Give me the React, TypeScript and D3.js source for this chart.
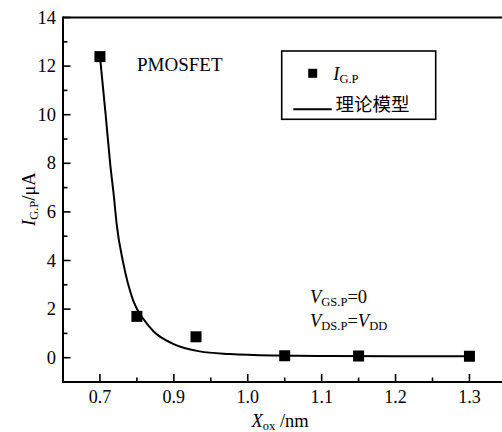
import React from "react";
import * as d3 from "d3";

const xTickValues = [0.8, 0.9, 1.0, 1.1, 1.2, 1.3];
const xTickLabels = ["0.7", "0.9", "1.0", "1.1", "1.2", "1.3"];
const xMinorTicks = [0.85, 0.95, 1.05, 1.15, 1.25];
const yTickValues = [0, 2, 4, 6, 8, 10, 12, 14];
const yMinorTicks = [1, 3, 5, 7, 9, 11, 13];

const measuredX = [0.8, 0.85, 0.93, 1.05, 1.15, 1.3];
const measuredY = [12.39, 1.7, 0.86, 0.08, 0.07, 0.06];

const modelX = [0.8, 0.8077, 0.8138, 0.819, 0.8226, 0.8315, 0.845, 0.8586, 0.872, 0.899, 0.935, 0.976, 1.035, 1.11, 1.2, 1.3];
const modelY = [12.4, 10.0, 8.0, 6.6, 5.5, 3.9, 2.35, 1.6, 1.1, 0.57, 0.26, 0.15, 0.09, 0.07, 0.06, 0.06];

const W = 502;
const H = 432;
const left = 63;
const top = 17.5;
const bottom = 382;
const right = 506.4;

const serif = '"Times New Roman", "Liberation Serif", Tinos, "DejaVu Serif", serif';
const cjk = '"Noto Sans CJK SC", sans-serif';

const serifStyle: React.CSSProperties = { fontFamily: serif };
const cjkStyle: React.CSSProperties = { fontFamily: cjk };

export default function App() {
  const x = d3.scaleLinear().domain([0.75, 1.35]).range([left, right]);
  const y = d3.scaleLinear().domain([-1, 14]).range([bottom, top]);

  const line = d3
    .line<number>()
    .x((_, i) => x(modelX[i]))
    .y((d) => y(d))
    .curve(d3.curveMonotoneX);

  const sq = 11;

  return (
    <div style={{ position: "fixed", left: 0, top: 0, width: W, height: H, background: "#fff" }}>
      <svg width={W} height={H} style={{ display: "block" }}>
        <rect width={W} height={H} fill="#fff" />
        <path d={line(modelY) || ""} fill="none" stroke="#000" strokeWidth={2} />
        {measuredX.map((mx, i) => (
          <rect
            key={i}
            x={x(mx) - sq / 2}
            y={y(measuredY[i]) - sq / 2}
            width={sq}
            height={sq}
            fill="#000"
          />
        ))}
        <line x1={left} x2={W} y1={top} y2={top} stroke="#000" strokeWidth={2} />
        <line x1={left} x2={W} y1={bottom} y2={bottom} stroke="#000" strokeWidth={2} />
        <line x1={left} x2={left} y1={top - 1} y2={bottom + 1} stroke="#000" strokeWidth={2} />
        {xTickValues.map((v, i) => (
          <g key={"xt" + i}>
            <line x1={x(v)} x2={x(v)} y1={bottom} y2={bottom - 8} stroke="#000" strokeWidth={1.6} />
            <text x={x(v)} y={403} textAnchor="middle" style={serifStyle} fontSize={18}>
              {xTickLabels[i]}
            </text>
          </g>
        ))}
        {xMinorTicks.map((v, i) => (
          <line key={"xm" + i} x1={x(v)} x2={x(v)} y1={bottom} y2={bottom - 4.5} stroke="#000" strokeWidth={1.6} />
        ))}
        {yTickValues.map((v, i) => (
          <g key={"yt" + i}>
            <line x1={left} x2={left + 7.5} y1={y(v)} y2={y(v)} stroke="#000" strokeWidth={1.6} />
            <text x={56} y={y(v) + 6} textAnchor="end" style={serifStyle} fontSize={18.5}>
              {v}
            </text>
          </g>
        ))}
        {yMinorTicks.map((v, i) => (
          <line key={"ym" + i} x1={left} x2={left + 4.5} y1={y(v)} y2={y(v)} stroke="#000" strokeWidth={1.6} />
        ))}
        <text x={251.5} y={427} style={serifStyle} fontSize={18.5}>
          <tspan fontStyle="italic">X</tspan>
          <tspan fontSize={12.5} dy={3}>ox</tspan>
          <tspan dy={-3}> /nm</tspan>
        </text>
        <text transform="translate(35,226) rotate(-90)" style={serifStyle} fontSize={18.5}>
          <tspan fontStyle="italic">I</tspan>
          <tspan fontSize={12.5} dy={3}>G.P</tspan>
          <tspan dy={-3}>/μA</tspan>
        </text>
        <text x={137} y={71} style={serifStyle} fontSize={19}>
          PMOSFET
        </text>
        <rect x={281.7} y={51} width={154} height={68.3} fill="none" stroke="#000" strokeWidth={1.6} />
        <rect x={312.7 - 4.5} y={73.3 - 4.5} width={9} height={9} fill="#000" />
        <text x={333.3} y={79.5} style={serifStyle} fontSize={18.5}>
          <tspan fontStyle="italic">I</tspan>
          <tspan fontSize={12.5} dy={3}>G.P</tspan>
        </text>
        <line x1={293.3} x2={331.7} y1={109.3} y2={109.3} stroke="#000" strokeWidth={2} />
        <text x={335.5} y={111} style={cjkStyle} fontSize={18.5}>
          理论模型
        </text>
        <text x={310} y={303.3} style={serifStyle} fontSize={18.5}>
          <tspan fontStyle="italic">V</tspan>
          <tspan fontSize={12.5} dy={3}>GS.P</tspan>
          <tspan dy={-3}>=0</tspan>
        </text>
        <text x={310} y={327.3} style={serifStyle} fontSize={18.5}>
          <tspan fontStyle="italic">V</tspan>
          <tspan fontSize={12.5} dy={3}>DS.P</tspan>
          <tspan dy={-3}>=</tspan>
          <tspan fontStyle="italic">V</tspan>
          <tspan fontSize={12.5} dy={3}>DD</tspan>
        </text>
      </svg>
    </div>
  );
}
